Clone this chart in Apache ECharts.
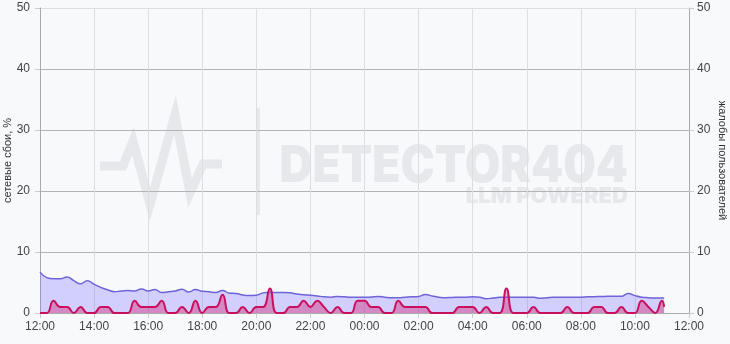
<!DOCTYPE html>
<html>
<head>
<meta charset="utf-8">
<script src="https://cdn.jsdelivr.net/npm/echarts@6/dist/echarts.min.js"></script>
<style>
html,body{margin:0;padding:0;background:#f8f9fb;}
#c{width:730px;height:344px;}
</style>
</head>
<body>
<div id="c"></div>
<script>
// X tick labels (every 2 hours, starting 12:00)
const timeLabels = ['12:00','14:00','16:00','18:00','20:00','22:00','00:00','02:00','04:00','06:00','08:00','10:00','12:00'];
// sampling: every 15 minutes from 12:00, last sample at ~11:05
const stepHours = 0.25;
const lastSampleHour = 23.08;

// network failures, % (left axis)
const failures = [
  6.7,5.8,5.6,5.6,5.9,5.3,4.8,5.3,4.7,4.2,3.8,3.5,3.6,3.7,3.6,3.95,3.6,3.85,3.35,3.5,
  3.6,3.9,3.45,3.85,3.55,3.5,3.35,3.7,3.25,3.2,2.95,2.85,2.9,3.3,3.4,3.35,3.35,3.3,3.1,3.0,
  2.9,2.8,2.65,2.6,2.7,2.65,2.57,2.57,2.57,2.62,2.7,2.6,2.5,2.5,2.57,2.65,2.7,3.05,2.8,2.6,
  2.5,2.55,2.6,2.6,2.65,2.6,2.35,2.45,2.57,2.57,2.57,2.6,2.6,2.6,2.4,2.5,2.57,2.57,2.6,2.6,
  2.6,2.65,2.68,2.7,2.73,2.73,2.75,3.2,2.85,2.6,2.5,2.45,2.45,2.45
];
// user complaints (right axis)
const complaints = [
  0,0,2,1,1,0,1,0,0,1,1,0,0,0,2,1,1,1,2,0,
  0,1,0,2,0,1,1,3,0,0,1,0,1,1,4,0,0,1,1,2,
  1,2,1,0,1,0,0,2,2,1,1,0,0,2,1,1,1,1,0,0,
  0,0,1,1,1,0,1,0,0,4,0,0,0,1,0,0,0,0,1,0,
  0,0,1,1,0,0,1,0,0,2,1,0,2,1
];

const leftName = 'сетевые сбои, %';
const rightName = 'жалобы пользователей';

function hourOf(i, n) { return i === n - 1 ? lastSampleHour : i * stepHours; }
const failData = failures.map((v, i) => [hourOf(i, failures.length), v]);
const compData = complaints.map((v, i) => [hourOf(i, complaints.length), v]);

const wm = '#e6e8eb';
const chart = echarts.init(document.getElementById('c'), null, {renderer: 'canvas'});
chart.setOption({
  backgroundColor: '#f8f9fb',
  animation: false,
  textStyle: {fontFamily: 'Liberation Sans, Arial, sans-serif'},
  graphic: [
    {type: 'polyline', z: -10, silent: true,
     shape: {points: [[100,166],[123,166],[133,141],[150,204],[175,115],[190,193],[203,164],[222,164]]},
     style: {stroke: wm, lineWidth: 9, fill: null, lineJoin: 'miter'}},
    {type: 'rect', z: -10, silent: true, shape: {x: 256, y: 108, width: 4, height: 107}, style: {fill: wm}},
    {type: 'text', z: -10, silent: true, x: 628, y: 167, scaleX: 0.9, originX: 0, originY: 0,
     style: {text: 'DETECTOR404', x: 0, y: 0, align: 'right', verticalAlign: 'middle',
      font: '900 51px Inter, Roboto, sans-serif', fill: wm}},
    {type: 'text', z: -10, silent: true, x: 628, y: 196,
     style: {text: 'LLM POWERED', x: 0, y: 0, align: 'right', verticalAlign: 'middle',
      font: '900 22px Inter, Roboto, sans-serif', fill: wm}}
  ],
  grid: {left: 40, right: 41, top: 8, bottom: 31, containLabel: false, outerBoundsMode: 'none'},
  xAxis: {
    type: 'value', min: 0, max: 24, interval: 2,
    axisLine: {show: true, lineStyle: {color: '#aaa'}},
    axisTick: {show: true, length: 5, lineStyle: {color: '#ccc'}},
    axisLabel: {color: '#444', fontSize: 12, margin: 8, formatter: v => timeLabels[Math.round(v / 2)]},
    splitLine: {show: true, lineStyle: {color: '#dedede'}}
  },
  yAxis: [
    {type: 'value', min: 0, max: 50, interval: 10, position: 'left',
     name: leftName, nameLocation: 'middle', nameRotate: 90, nameGap: 27, nameMoveOverlap: false,
     nameTextStyle: {color: '#333', fontSize: 11},
     axisLine: {show: true, lineStyle: {color: '#aaa'}},
     axisTick: {show: true, length: 5, lineStyle: {color: '#ccc'}},
     axisLabel: {color: '#444', fontSize: 12, margin: 10},
     splitLine: {show: true, lineStyle: {color: ['#b4b4b4','#b4b4b4','#b4b4b4','#b4b4b4','#b4b4b4','#dedede']}}},
    {type: 'value', min: 0, max: 50, interval: 10, position: 'right',
     name: rightName, nameLocation: 'middle', nameRotate: -90, nameGap: 28, nameMoveOverlap: false,
     nameTextStyle: {color: '#333', fontSize: 11},
     axisLine: {show: true, lineStyle: {color: '#aaa'}},
     axisTick: {show: true, length: 5, lineStyle: {color: '#ccc'}},
     axisLabel: {color: '#444', fontSize: 12, margin: 8},
     splitLine: {show: false}}
  ],
  series: [
    {type: 'line', name: leftName, yAxisIndex: 0, data: failData, smooth: true, showSymbol: false, symbol: 'none',
     lineStyle: {color: '#6f63d8', width: 1.5},
     areaStyle: {color: 'rgba(120,105,255,0.42)'}},
    {type: 'line', name: rightName, yAxisIndex: 1, data: compData, smooth: true, showSymbol: false, symbol: 'none',
     lineStyle: {color: '#c8105e', width: 2},
     areaStyle: {color: 'rgba(215,40,120,0.6)'}}
  ]
});
</script>
</body>
</html>
